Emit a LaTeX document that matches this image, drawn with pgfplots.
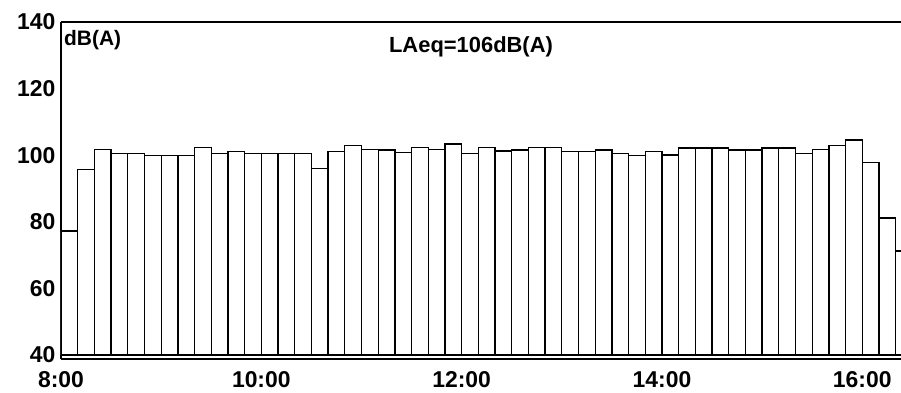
\documentclass[border=0pt]{standalone}
\usepackage{fontspec}
\setmainfont{Liberation Sans}
\usepackage{pgfplots}
\pgfplotsset{compat=1.18}
\begin{document}
\begin{tikzpicture}
\begin{axis}[
  scale only axis,
  width=843bp, height=333bp,
  xmin=0, xmax=505,
  ymin=40, ymax=140,
  axis x line=bottom, axis y line=left,
  axis line style={line width=1.6bp, -},
  xtick={0,120,240,360,480},
  xticklabels={8:00,10:00,12:00,14:00,16:00},
  ytick={40,60,80,100,120,140},
  major tick length=0pt,
  /pgf/number format/assume math mode=true,
  ticklabel style={font=\fontsize{23}{26}\selectfont\bfseries},
  xticklabel style={yshift=-13bp},
  yticklabel style={xshift=-2bp},
  clip=true,
]
\addplot[ybar, bar width=10, fill=white, draw=black, line width=1.3bp] coordinates {
(5,77.2) (15,95.6) (25,101.8) (35,100.6) (45,100.6) (55,100) (65,100) (75,100)
(85,102.3) (95,100.6) (105,101.2) (115,100.6) (125,100.6) (135,100.6) (145,100.6)
(155,96.1) (165,101.1) (175,102.9) (185,101.8) (195,101.6) (205,100.9) (215,102.3)
(225,101.8) (235,103.4) (245,100.6) (255,102.3) (265,101.3) (275,101.6) (285,102.3)
(295,102.3) (305,101.1) (315,101.1) (325,101.6) (335,100.6) (345,100) (355,101.1)
(365,100.1) (375,102.2) (385,102.2) (395,102.2) (405,101.6) (415,101.6) (425,102.2)
(435,102.2) (445,100.6) (455,101.8) (465,103) (475,104.6) (485,97.9) (495,81.1)
(505,71.2)
};
\coordinate (o) at (rel axis cs:0,0);
\coordinate (br) at (rel axis cs:1,0);
\coordinate (tl) at (rel axis cs:0,1);
\coordinate (tr) at (rel axis cs:1,1);
\end{axis}
\draw[line width=1.6bp] (tl) -- (tr);
\draw[line width=1.3bp] ([yshift=-4bp]o) -- ([yshift=-4bp]br);
\draw[line width=1.6bp] (o) -- ([yshift=-4bp]o);
\node[anchor=north west, inner sep=0pt, font=\fontsize{21}{24}\selectfont\bfseries] at ([xshift=3bp,yshift=-8bp]tl) {dB(A)};
\node[anchor=center, inner sep=0pt, font=\fontsize{22}{26}\selectfont\bfseries] at ([xshift=410bp,yshift=-25bp]tl) {LAeq=106dB(A)};
\pgfresetboundingbox
\path[use as bounding box] ([xshift=-61bp,yshift=-38bp]o) rectangle ++(901bp,393bp);
\end{tikzpicture}
\end{document}
